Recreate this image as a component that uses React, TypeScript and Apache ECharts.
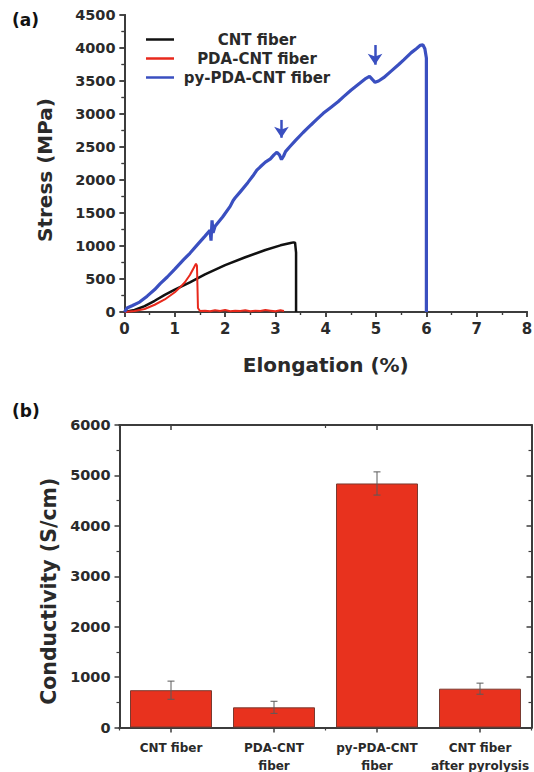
import React, { useEffect, useRef } from "react";
import * as echarts from "echarts";

// ---- (a) stress-strain curves ----
const strainCNT = [0, 0.2, 0.4, 0.6, 0.8, 1.0, 1.3, 1.6, 2.0, 2.4, 2.8, 3.1, 3.3, 3.36, 3.39, 3.41, 3.41];
const stressCNT = [0, 30, 90, 170, 260, 340, 450, 570, 710, 830, 940, 1010, 1045, 1055, 1050, 900, 0];

const strainPDA = [0, 0.2, 0.4, 0.6, 0.8, 1.0, 1.1, 1.2, 1.3, 1.37, 1.42, 1.44, 1.45, 1.46, 1.5, 1.6, 1.7, 1.8, 1.9, 2.0, 2.1, 2.2, 2.3, 2.4, 2.5, 2.6, 2.7, 2.8, 2.9, 3.0, 3.1, 3.17];
const stressPDA = [0, 15, 45, 110, 190, 300, 370, 450, 560, 660, 730, 700, 400, 60, 15, 20, 10, 25, 15, 30, 10, 20, 15, 25, 10, 20, 15, 30, 20, 10, 25, 15];

const strainPy = [0, 0.05, 0.15, 0.3, 0.45, 0.6, 0.71, 0.85, 1.0, 1.17, 1.3, 1.45, 1.6, 1.7, 1.72, 1.74, 1.76, 1.8, 1.95, 2.1, 2.16, 2.2, 2.3, 2.45, 2.55, 2.63, 2.7, 2.8, 2.9, 2.97, 3.03, 3.08, 3.12, 3.16, 3.2, 3.28, 3.4, 3.55, 3.7, 3.81, 3.95, 4.1, 4.25, 4.35, 4.5, 4.65, 4.8, 4.87, 4.93, 4.98, 5.05, 5.15, 5.3, 5.45, 5.55, 5.7, 5.8, 5.88, 5.93, 5.97, 6.0, 6.0];
const stressPy = [0, 60, 95, 150, 240, 340, 430, 530, 650, 790, 890, 1020, 1150, 1240, 1080, 1390, 1200, 1300, 1440, 1600, 1690, 1730, 1820, 1960, 2060, 2150, 2200, 2270, 2320, 2380, 2420, 2380, 2310, 2360, 2430, 2500, 2600, 2720, 2830, 2910, 3010, 3100, 3190, 3260, 3360, 3450, 3540, 3570, 3520, 3480, 3500, 3550, 3650, 3750, 3820, 3930, 3990, 4040, 4050, 3990, 3850, 0];

const seriesNames = ["CNT fiber", "PDA-CNT fiber", "py-PDA-CNT fiber"];

// arrows marking the load drops: [strain, arrow top stress, arrow tip stress]
const arrowStrain = [3.12, 4.98];
const arrowTop = [2910, 4045];
const arrowTip = [2560, 3667];

// ---- (b) conductivity bars ----
const categories = ["CNT fiber", "PDA-CNT\nfiber", "py-PDA-CNT\nfiber", "CNT fiber\nafter pyrolysis"];
const conductivity = [740, 400, 4840, 770];
const conductivityErr = [180, 120, 230, 110];

const FONT = "DejaVu Sans";
const AXIS_COLOR = "#3c3c3c";
const TEXT_COLOR = "#2a2a2a";

const zip = (xs: number[], ys: number[]) => xs.map((x, i) => [x, ys[i]]);
const plain = (v: number) => String(v);

export default function App() {
  const ref = useRef<HTMLDivElement>(null);

  useEffect(() => {
    document.body.style.margin = "0";
    if (!ref.current) return;
    const chart = echarts.init(ref.current, null, { renderer: "svg" });

    const axisLine = { show: true, lineStyle: { color: AXIS_COLOR, width: 2 } };
    const label = { fontFamily: FONT, fontWeight: "bold" as const, fontSize: 14.5, color: TEXT_COLOR, formatter: plain };

    const valueAxisCommon = (extra: any) => ({
      type: "value",
      axisLine,
      splitLine: { show: false },
      minorSplitLine: { show: false },
      axisTick: { show: true, length: 5, lineStyle: { color: AXIS_COLOR, width: 1.5 } },
      minorTick: { show: true, splitNumber: 2, length: 3, lineStyle: { color: AXIS_COLOR, width: 1.2 } },
      ...extra,
    });

    const errData = conductivity.map((v, i) => [i, v - conductivityErr[i], v + conductivityErr[i]]);

    const option: any = {
      animation: false,
      textStyle: { fontFamily: FONT },
      grid: [
        { left: 124.5, top: 15, width: 402.5, height: 297, outerBoundsMode: "none", containLabel: false },
        { left: 119.5, top: 425, width: 412, height: 302.5, outerBoundsMode: "none", containLabel: false },
      ],
      graphic: [
        { type: "text", left: 12, top: 11, style: { text: "(a)", font: `bold 17px "${FONT}"`, fill: "#111" } },
        { type: "text", left: 12, top: 402, style: { text: "(b)", font: `bold 17px "${FONT}"`, fill: "#111" } },
      ],
      legend: {
        data: seriesNames,
        orient: "vertical",
        left: 141,
        top: 27,
        itemWidth: 28,
        itemHeight: 2.5,
        itemGap: 4,
        icon: "rect",
        formatter: "{c|{name}}",
        textStyle: {
          rich: {
            c: { width: 156, align: "center", fontFamily: FONT, fontWeight: "bold", fontSize: 15, lineHeight: 18, color: TEXT_COLOR },
          },
        },
      },
      xAxis: [
        valueAxisCommon({
          gridIndex: 0, position: "bottom", min: 0, max: 8, interval: 1,
          axisLabel: { ...label, fontSize: 15, margin: 9 },
          name: "Elongation (%)", nameLocation: "middle", nameGap: 43,
          nameTextStyle: { fontFamily: FONT, fontWeight: "bold", fontSize: 20, color: TEXT_COLOR },
        }),
        valueAxisCommon({
          gridIndex: 0, position: "top", min: 0, max: 8, interval: 1,
          axisLabel: { show: false },
          axisTick: { show: true, inside: true, length: 5, lineStyle: { color: AXIS_COLOR, width: 1.5 } },
          minorTick: { show: true, inside: true, splitNumber: 2, length: 3, lineStyle: { color: AXIS_COLOR, width: 1.2 } },
        }),
        {
          type: "category", gridIndex: 1, position: "bottom", data: categories,
          axisLine,
          axisTick: { show: true, alignWithLabel: true, length: 5, lineStyle: { color: AXIS_COLOR, width: 1.5 } },
          axisLabel: { fontFamily: FONT, fontWeight: "bold", color: TEXT_COLOR, fontSize: 12, lineHeight: 18, margin: 11, interval: 0 },
          splitLine: { show: false },
        },
        {
          type: "category", gridIndex: 1, position: "bottom", data: categories,
          axisLine,
          axisTick: { show: true, alignWithLabel: false, length: 3, lineStyle: { color: AXIS_COLOR, width: 1.2 } },
          axisLabel: { show: false },
          splitLine: { show: false },
        },
        {
          type: "category", gridIndex: 1, position: "top", data: categories,
          axisLine,
          axisTick: { show: true, inside: true, alignWithLabel: true, length: 5, lineStyle: { color: AXIS_COLOR, width: 1.5 } },
          axisLabel: { show: false },
          splitLine: { show: false },
        },
        {
          type: "category", gridIndex: 1, position: "top", data: categories,
          axisLine,
          axisTick: { show: true, inside: true, alignWithLabel: false, length: 3, lineStyle: { color: AXIS_COLOR, width: 1.2 } },
          axisLabel: { show: false },
          splitLine: { show: false },
        },
      ],
      yAxis: [
        valueAxisCommon({
          gridIndex: 0, position: "left", min: 0, max: 4500, interval: 500,
          axisLabel: { ...label, margin: 9 },
          name: "Stress (MPa)", nameLocation: "middle", nameGap: 70,
          nameTextStyle: { fontFamily: FONT, fontWeight: "bold", fontSize: 20, color: TEXT_COLOR, padding: [0, 13, 0, 0] },
        }),
        valueAxisCommon({
          gridIndex: 0, position: "right", min: 0, max: 4500, interval: 500,
          axisLabel: { show: false },
          axisTick: { show: true, inside: true, length: 5, lineStyle: { color: AXIS_COLOR, width: 1.5 } },
          minorTick: { show: true, inside: true, splitNumber: 2, length: 3, lineStyle: { color: AXIS_COLOR, width: 1.2 } },
        }),
        valueAxisCommon({
          gridIndex: 1, position: "left", min: 0, max: 6000, interval: 1000,
          axisLabel: { ...label, margin: 9 },
          name: "Conductivity (S/cm)", nameLocation: "middle", nameGap: 57,
          nameTextStyle: { fontFamily: FONT, fontWeight: "bold", fontSize: 20.5, color: TEXT_COLOR, padding: [0, 30, 0, 0] },
        }),
        valueAxisCommon({
          gridIndex: 1, position: "right", min: 0, max: 6000, interval: 1000,
          axisLabel: { show: false },
          axisTick: { show: true, inside: true, length: 5, lineStyle: { color: AXIS_COLOR, width: 1.5 } },
          minorTick: { show: true, inside: true, splitNumber: 2, length: 3, lineStyle: { color: AXIS_COLOR, width: 1.2 } },
        }),
      ],
      series: [
        {
          name: seriesNames[0], type: "line", xAxisIndex: 0, yAxisIndex: 0,
          data: zip(strainCNT, stressCNT), showSymbol: false, symbol: "none",
          color: "#111111", lineStyle: { color: "#111111", width: 2.5 },
        },
        {
          name: seriesNames[1], type: "line", xAxisIndex: 0, yAxisIndex: 0,
          data: zip(strainPDA, stressPDA), showSymbol: false, symbol: "none",
          color: "#e8291c", lineStyle: { color: "#e8291c", width: 2 },
        },
        {
          name: seriesNames[2], type: "line", xAxisIndex: 0, yAxisIndex: 0,
          data: zip(strainPy, stressPy), showSymbol: false, symbol: "none",
          color: "#3a4fc0", lineStyle: { color: "#3a4fc0", width: 3.2 },
          markLine: {
            silent: true,
            symbol: ["none", "arrow"],
            symbolSize: 11,
            label: { show: false },
            lineStyle: { color: "#3a4fc0", width: 2.5, type: "solid" },
            data: arrowStrain.map((x, i) => [
              { coord: [x, arrowTop[i]] },
              { coord: [x, arrowTip[i] + 80] },
            ]),
          },
        },
        {
          name: "Conductivity", type: "bar", xAxisIndex: 2, yAxisIndex: 2,
          data: conductivity, barWidth: 82,
          itemStyle: { color: "#e8321e", borderColor: "#7a3a30", borderWidth: 1 },
        },
        {
          name: "Error", type: "custom", xAxisIndex: 2, yAxisIndex: 2,
          data: errData,
          encode: { x: 0, y: [1, 2] },
          z: 5,
          renderItem: (params: any, api: any) => {
            const idx = api.value(0);
            const lo = api.coord([idx, api.value(1)]);
            const hi = api.coord([idx, api.value(2)]);
            const hw = 3.5;
            const st = { stroke: "#5a5a5a", lineWidth: 1 };
            return {
              type: "group",
              children: [
                { type: "line", shape: { x1: lo[0], y1: lo[1], x2: hi[0], y2: hi[1] }, style: st },
                { type: "line", shape: { x1: lo[0] - hw, y1: lo[1], x2: lo[0] + hw, y2: lo[1] }, style: st },
                { type: "line", shape: { x1: hi[0] - hw, y1: hi[1], x2: hi[0] + hw, y2: hi[1] }, style: st },
              ],
            };
          },
        },
      ],
    };

    chart.setOption(option);
    return () => chart.dispose();
  }, []);

  return <div ref={ref} style={{ width: 534, height: 772 }} />;
}
